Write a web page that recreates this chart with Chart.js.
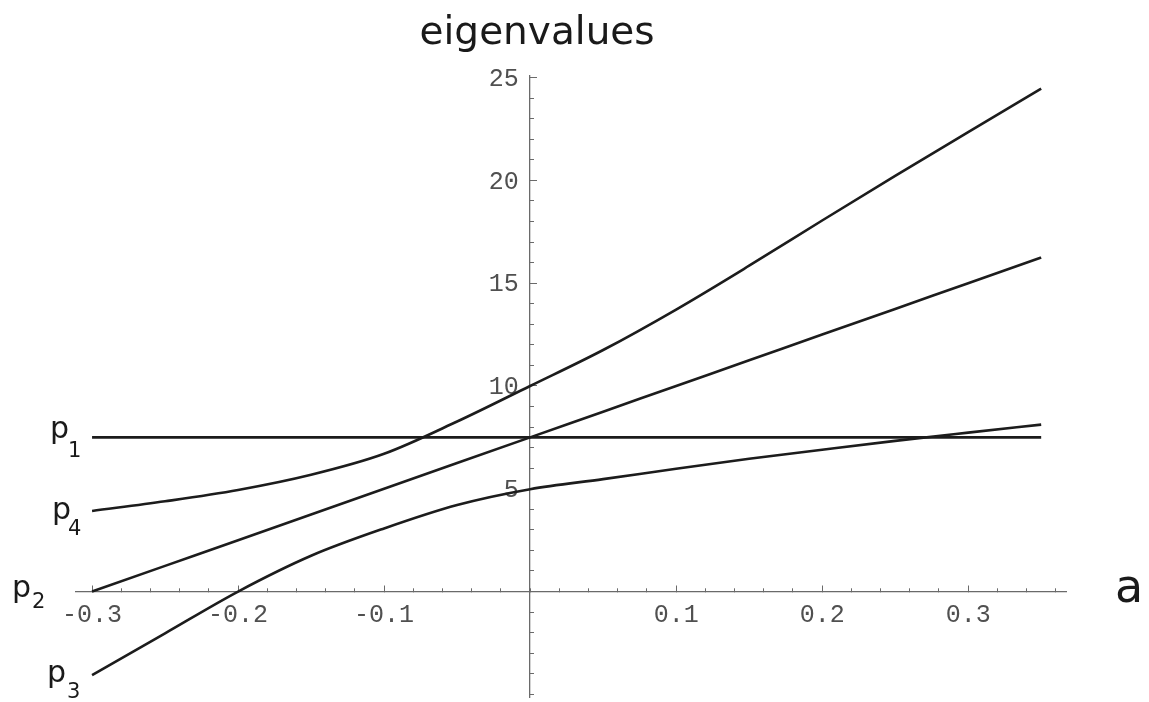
<!DOCTYPE html>
<html>
<head>
<meta charset="utf-8">
<title>eigenvalues</title>
<script src="https://cdn.jsdelivr.net/npm/chart.js@4.4.0/dist/chart.umd.min.js"></script>
<style>
  html, body { margin: 0; padding: 0; background: #fff; }
  #wrap { width: 1149px; height: 702px; }
</style>
</head>
<body>
<div id="wrap"><canvas id="eigChart" width="1149" height="702"></canvas></div>
<script>
// parameter a along the horizontal axis
const aValues = [-0.3, -0.25, -0.2, -0.15, -0.1, -0.05, 0, 0.05, 0.1, 0.15, 0.2, 0.25, 0.3, 0.35];

// the four eigenvalue branches
const p1Values = [7.5, 7.5, 7.5, 7.5, 7.5, 7.5, 7.5, 7.5, 7.5, 7.5, 7.5, 7.5, 7.5, 7.5];
const p2Values = [0, 1.25, 2.5, 3.75, 5, 6.25, 7.5, 8.75, 10, 11.25, 12.5, 13.75, 15, 16.25];
const p3Values = [-4.06, -2.03, 0, 1.74, 3.07, 4.21, 4.98, 5.47, 5.97, 6.46, 6.9, 7.33, 7.73, 8.12];
const p4Values = [3.92, 4.39, 4.94, 5.68, 6.7, 8.27, 10, 11.75, 13.72, 15.85, 18.05, 20.22, 22.35, 24.47];

// labelled ticks
const xMajorTicks = [-0.3, -0.2, -0.1, 0.1, 0.2, 0.3];
const xTickLabels = ['-0.3', '-0.2', '-0.1', '0.1', '0.2', '0.3'];
const yMajorTicks = [5, 10, 15, 20, 25];
const yTickLabels = ['5', '10', '15', '20', '25'];

const titleText = 'eigenvalues';
const axisName = 'a';
const branchNames = [['p', '1'], ['p', '4'], ['p', '2'], ['p', '3']];

const lineColor = '#1c1c1c';
const axisGrey = '#6a6a6a';
const labelGrey = '#505050';
const monoFont = { family: '"Liberation Mono", "DejaVu Sans Mono", monospace', size: 25 };

const xRange = { min: -0.311, max: 0.367 };
const yRange = { min: -5.13, max: 25.08 };

// axes sit inside the plot, so they should take no room in the layout
function flatX(s) { s.height = 0; s.paddingLeft = 0; s.paddingRight = 0; }
function flatY(s) { s.width = 0; s.paddingTop = 0; s.paddingBottom = 0; }

function toPoints(vals) {
  return aValues.map((a, i) => ({ x: a, y: vals[i] }));
}

function branch(vals) {
  return {
    data: toPoints(vals),
    borderColor: lineColor,
    borderWidth: 2.6,
    pointRadius: 0,
    cubicInterpolationMode: 'monotone',
    fill: false
  };
}

// title, axis name and the p labels next to each branch
const textPlugin = {
  id: 'eigText',
  afterDraw(chart) {
    const { ctx } = chart;
    const x = chart.scales.x;
    const y = chart.scales.y;
    const x0 = x.getPixelForValue(0);
    const y0 = y.getPixelForValue(0);
    ctx.save();
    ctx.fillStyle = '#1a1a1a';
    ctx.textBaseline = 'alphabetic';

    ctx.font = '39px "DejaVu Sans"';
    ctx.textAlign = 'center';
    ctx.fillText(titleText, x0 + 7, 43.5);

    ctx.textAlign = 'left';
    ctx.font = '46px "DejaVu Sans"';
    ctx.fillText(axisName, x.right + 49, y0 + 10);

    // where each label sits: left edge, baseline (as a y value), subscript offset
    const spots = [
      { left: 50, at: 7.47, dx: 18, drop: 19 },
      { left: 52, at: 3.53, dx: 16, drop: 16 },
      { left: 12, at: -0.27, dx: 20, drop: 11 },
      { left: 47, at: -4.4, dx: 20, drop: 16 }
    ];
    branchNames.forEach((nm, i) => {
      const s = spots[i];
      const by = y.getPixelForValue(s.at);
      ctx.font = '30px "DejaVu Sans"';
      ctx.fillText(nm[0], s.left, by);
      ctx.font = '21px "DejaVu Sans"';
      ctx.fillText(nm[1], s.left + s.dx, by + s.drop);
    });
    ctx.restore();
  }
};

const ctx = document.getElementById('eigChart').getContext('2d');
new Chart(ctx, {
  type: 'line',
  data: {
    datasets: [branch(p1Values), branch(p4Values), branch(p2Values), branch(p3Values)]
  },
  options: {
    responsive: false,
    animation: false,
    devicePixelRatio: 1,
    layout: { padding: { left: 76, right: 83, top: 76, bottom: 5 } },
    plugins: {
      legend: { display: false },
      tooltip: { enabled: false },
      title: { display: false }
    },
    scales: {
      x: {
        type: 'linear',
        min: xRange.min,
        max: xRange.max,
        position: { y: 0 },
        ticks: { display: false, stepSize: 0.02, includeBounds: false },
        grid: { drawOnChartArea: false, drawTicks: true, tickLength: -4, tickColor: axisGrey, tickWidth: 1 },
        border: { display: true, color: axisGrey, width: 1.3 },
        afterFit: flatX
      },
      xMajor: {
        type: 'linear',
        axis: 'x',
        min: xRange.min,
        max: xRange.max,
        position: { y: 0 },
        afterBuildTicks: (s) => { s.ticks = xMajorTicks.map(v => ({ value: v })); },
        ticks: {
          padding: 15,
          autoSkip: false,
          maxRotation: 0,
          font: monoFont,
          color: labelGrey,
          callback: (v, i) => xTickLabels[i]
        },
        grid: { drawOnChartArea: false, drawTicks: true, tickLength: -6.5, tickColor: axisGrey, tickWidth: 1 },
        border: { display: false },
        afterFit: flatX
      },
      y: {
        type: 'linear',
        min: yRange.min,
        max: yRange.max,
        position: { x: 0 },
        ticks: { display: false, stepSize: 1, includeBounds: false },
        grid: { drawOnChartArea: false, drawTicks: true, tickLength: -5, tickColor: axisGrey, tickWidth: 1 },
        border: { display: true, color: axisGrey, width: 1.3 },
        afterFit: flatY
      },
      yMajor: {
        type: 'linear',
        axis: 'y',
        min: yRange.min,
        max: yRange.max,
        position: { x: 0 },
        afterBuildTicks: (s) => { s.ticks = yMajorTicks.map(v => ({ value: v })); },
        ticks: { display: false },
        grid: { drawOnChartArea: false, drawTicks: true, tickLength: -7, tickColor: axisGrey, tickWidth: 1 },
        border: { display: false },
        afterFit: flatY
      },
      // labels of the vertical axis, set a little to the left of it
      yLabels: {
        type: 'linear',
        axis: 'y',
        min: yRange.min,
        max: yRange.max,
        position: { x: -0.0078 },
        afterBuildTicks: (s) => { s.ticks = yMajorTicks.map(v => ({ value: v })); },
        ticks: {
          autoSkip: false,
          labelOffset: 1.5,
          font: monoFont,
          color: labelGrey,
          callback: (v, i) => yTickLabels[i]
        },
        grid: { drawOnChartArea: false, drawTicks: false },
        border: { display: false },
        afterFit: flatY
      }
    }
  },
  plugins: [textPlugin]
});
</script>
</body>
</html>
